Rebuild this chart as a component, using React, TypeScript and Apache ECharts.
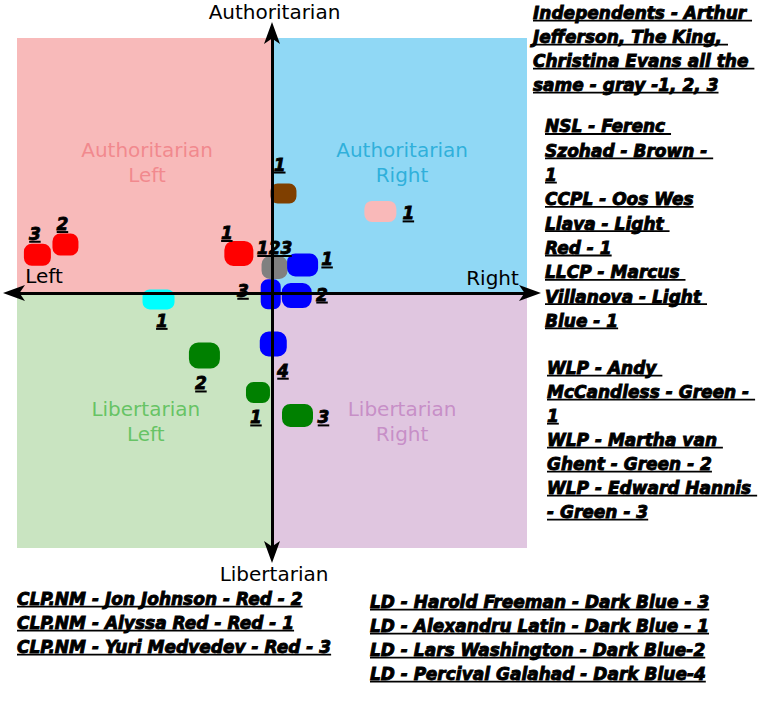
import React, { useEffect, useRef } from 'react';
import * as echarts from 'echarts';

// ---------------- data ----------------
const memberNames = [
  'Yuri Medvedev', 'Jon Johnson', 'Alyssa Red', 'Ferenc Szohad', 'Oos Wes Llava',
  'Arthur Jefferson / The King / Christina Evans', 'Alexandru Latin', 'Lars Washington',
  'Harold Freeman', 'Percival Galahad', 'Marcus Villanova', 'Martha van Ghent',
  'Andy McCandless', 'Edward Hannis',
];
const memberParty = ['CLP.NM', 'CLP.NM', 'CLP.NM', 'NSL', 'CCPL', 'Independents', 'LD', 'LD', 'LD', 'LD', 'LLCP', 'WLP', 'WLP', 'WLP'];
const economicScore = [-9.2, -8.1, -1.3, 0.45, 4.25, 0.1, 1.2, 0.97, -0.05, 0.05, -4.45, -2.65, -0.55, 1.0];
const socialScore = [1.5, 1.9, 1.55, 3.9, 3.2, 1.0, 1.1, -0.1, -0.05, -2.0, -0.25, -2.45, -3.9, -4.8];
const memberTags = ['3', '2', '1', '1', '1', '123', '1', '2', '3', '4', '1', '2', '1', '3'];
const memberColourKey = ['red', 'red', 'red', 'brown', 'lightRed', 'gray', 'darkBlue', 'darkBlue', 'darkBlue', 'darkBlue', 'lightBlue', 'green', 'green', 'green'];

const quadrantNames = ['Authoritarian\nLeft', 'Authoritarian\nRight', 'Libertarian\nLeft', 'Libertarian\nRight'];
const axisTitles = ['Authoritarian', 'Libertarian', 'Left', 'Right'];

const independentsNote = ['Independents - Arthur ', 'Jefferson, The King, ', 'Christina Evans all the ', 'same - gray -1, 2, 3'];
const rightPartiesNote = ['NSL - Ferenc ', 'Szohad - Brown - ', '1', 'CCPL - Oos Wes', 'Llava - Light ', 'Red - 1', 'LLCP - Marcus ', 'Villanova - Light ', 'Blue - 1'];
const wlpNote = ['WLP - Andy ', 'McCandless - Green - ', '1', 'WLP - Martha van ', 'Ghent - Green - 2', 'WLP - Edward Hannis ', '- Green - 3'];
const clpNote = ['CLP.NM - Jon Johnson - Red - 2', 'CLP.NM - Alyssa Red - Red - 1', 'CLP.NM - Yuri Medvedev - Red - 3'];
const ldNote = ['LD - Harold Freeman - Dark Blue - 3', 'LD - Alexandru Latin - Dark Blue - 1', 'LD - Lars Washington - Dark Blue-2', 'LD - Percival Galahad - Dark Blue-4'];

// ---------------- styles ----------------
const colourOf: Record<string, string> = {
  red: '#ff0000', brown: '#7f3f00', lightRed: '#f9b9b9', gray: '#808080',
  darkBlue: '#0000ff', lightBlue: '#00ffff', green: '#008000',
};
const markerSize = [[27, 22], [26, 22], [29, 25], [26, 20], [32, 21], [26, 23], [31, 23], [30, 25], [20, 30], [27, 25], [32, 20], [31, 26], [24, 21], [31, 23]];
const tagOffset = [[-2.5, -20], [-3, -19.5], [-12, -19.5], [-3.7, -28], [28, 3], [0, -18.5], [24.5, -4.5], [25.3, 0], [-27.7, -2.5], [9.7, 27.7], [3.3, 22.5], [-3.5, 29], [-2, 26], [26, 3]];
const quadrantBg = ['#f8baba', '#90d8f5', '#c9e4c1', '#e0c6e0'];
const quadrantText = ['#f07c82', '#14a6d4', '#4cbb4c', '#c080c0'];
const quadrantLabelPos = [[-4.9, 5.1], [5.1, 5.1], [-4.95, -5.05], [5.1, -5.05]];

const FAMILY = '"DejaVu Sans", "Noto Sans", sans-serif';
const NOTE_FONT = `italic bold 17px ${FAMILY}`;

function roundedPath(w: number, h: number): string {
  const r = Math.min(w, h) * 0.36;
  return `path://M${r},0H${w - r}A${r},${r} 0 0 1 ${w},${r}V${h - r}A${r},${r} 0 0 1 ${w - r},${h}H${r}A${r},${r} 0 0 1 0,${h - r}V${r}A${r},${r} 0 0 1 ${r},0Z`;
}

let measureCtx: CanvasRenderingContext2D | null = null;
function measure(text: string, font: string): number {
  if (!measureCtx) {
    const c = document.createElement('canvas');
    measureCtx = c.getContext('2d');
  }
  if (!measureCtx) return text.length * 10;
  measureCtx.font = font;
  return measureCtx.measureText(text).width;
}

function noteBlock(lines: string[], x: number, baseline: number, step: number) {
  const els: any[] = [];
  lines.forEach((line, i) => {
    const b = baseline + i * step;
    els.push({
      type: 'text', x, y: b - 5.9, z: 20,
      style: {
        text: line, font: NOTE_FONT, fill: '#000', stroke: '#000', lineWidth: 0.9,
        align: 'left', verticalAlign: 'middle',
      },
    });
    els.push({
      type: 'rect', z: 20, shape: { x, y: b + 0.8, width: measure(line, NOTE_FONT), height: 1.8 },
      style: { fill: '#000' },
    });
  });
  return els;
}

function titleText(text: string, x: number, baseline: number) {
  return {
    type: 'text', x, y: baseline - 6.9, z: 20,
    style: { text, font: `20px ${FAMILY}`, fill: '#000', align: 'center', verticalAlign: 'middle' },
  };
}

export default function App() {
  const ref = useRef<HTMLDivElement>(null);
  useEffect(() => {
    if (!ref.current) return;
    const chart = echarts.init(ref.current, undefined, { renderer: 'svg' });

    const points = memberNames.map((name, i) => {
      const [w, h] = markerSize[i];
      const tag = memberTags[i];
      return {
        name: `${memberParty[i]} - ${name}`,
        value: [economicScore[i], socialScore[i]],
        symbol: roundedPath(w, h),
        symbolSize: [w, h],
        itemStyle: { color: colourOf[memberColourKey[i]], opacity: 1 },
        label: {
          show: true,
          position: 'inside',
          offset: tagOffset[i],
          opacity: 1,
          formatter: `{n|${tag}}\n{u| }`,
          rich: {
            n: {
              fontSize: 17, fontWeight: 'bold', fontStyle: 'italic', fontFamily: FAMILY, color: '#000',
              textBorderColor: '#000', textBorderWidth: 0.8, lineHeight: 14, align: 'center',
            },
            u: { width: tag.length * 11.5, height: 2, lineHeight: 2, backgroundColor: '#000', fontSize: 1, align: 'center' },
          },
        },
      };
    });

    const quadrantAreas = [
      [[-10, 10], [0, 0]],
      [[0, 10], [10, 0]],
      [[-10, 0], [0, -10]],
      [[0, 0], [10, -10]],
    ].map((c, i) => [
      { xAxis: c[0][0], yAxis: c[0][1], itemStyle: { color: quadrantBg[i], opacity: 1, borderWidth: 0 } },
      { xAxis: c[1][0], yAxis: c[1][1] },
    ]);

    const axisCommon = {
      type: 'value',
      min: -10,
      max: 10,
      z: 10,
      axisTick: { show: false },
      axisLabel: { show: false },
      splitLine: { show: false },
    };

    chart.setOption({
      animation: false,
      backgroundColor: '#ffffff',
      grid: { left: 17, top: 38, width: 510, height: 510 },
      xAxis: {
        ...axisCommon,
        axisLine: {
          show: true, onZero: true, symbol: ['arrow', 'arrow'], symbolSize: [12, 22], symbolOffset: [-14, 14],
          lineStyle: { color: '#000', width: 3 },
        },
      },
      yAxis: {
        ...axisCommon,
        axisLine: {
          show: true, onZero: true, symbol: ['arrow', 'arrow'], symbolSize: [12, 22], symbolOffset: [-15, 16],
          lineStyle: { color: '#000', width: 3 },
        },
      },
      series: [
        {
          type: 'scatter',
          silent: true,
          z: 1,
          data: quadrantNames.map((q, i) => ({
            value: quadrantLabelPos[i],
            symbolSize: 1,
            itemStyle: { color: 'rgba(0,0,0,0)' },
            label: {
              show: true, position: 'inside', formatter: q, fontSize: 20, lineHeight: 25,
              fontFamily: FAMILY, color: quadrantText[i], align: 'center',
            },
          })),
          markArea: { silent: true, data: quadrantAreas },
        },
        {
          type: 'scatter',
          silent: true,
          z: 3,
          itemStyle: { opacity: 1 },
          data: points,
        },
      ],
      graphic: [
        titleText(axisTitles[0], 274.5, 19),
        titleText(axisTitles[1], 274, 581),
        titleText(axisTitles[2], 44, 283.3),
        titleText(axisTitles[3], 492.5, 284.5),
        ...noteBlock(independentsNote, 533, 19, 24),
        ...noteBlock(rightPartiesNote, 545, 132.3, 24.3),
        ...noteBlock(wlpNote, 547, 374, 24),
        ...noteBlock(clpNote, 17, 605, 24),
        ...noteBlock(ldNote, 370, 608, 24),
      ],
    });
    return () => chart.dispose();
  }, []);

  return (
    <div
      ref={ref}
      style={{ position: 'absolute', left: 0, top: 0, width: 761, height: 717, background: '#fff' }}
    />
  );
}
